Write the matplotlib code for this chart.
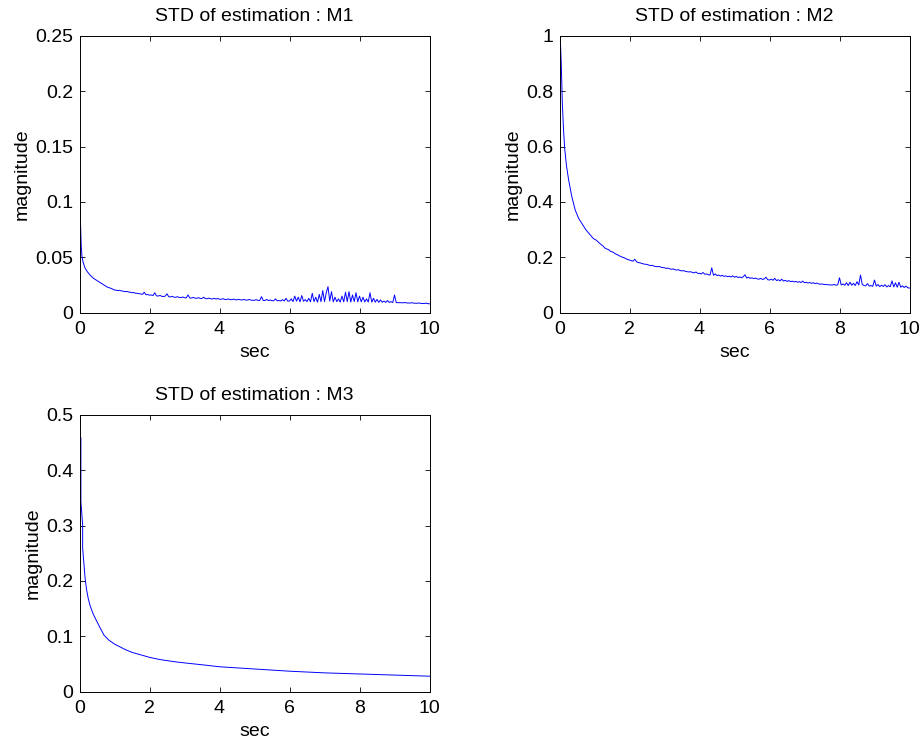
import numpy as np
import matplotlib
matplotlib.use("Agg")
import matplotlib.pyplot as plt
from matplotlib.ticker import FormatStrFormatter

# ---- M1: steep start, then a value every 0.05 s from 1.0 to 10.0 ----
m1_head_t = [0, 0.02, 0.03, 0.05, 0.07, 0.1, 0.15, 0.2, 0.3, 0.4, 0.5, 0.6, 0.7, 0.8, 0.9]
m1_head = [0.110, 0.100, 0.080, 0.060, 0.051, 0.046, 0.041, 0.038, 0.034, 0.031,
           0.029, 0.027, 0.025, 0.023, 0.022]
m1_tail = [
    0.0205, 0.0203, 0.0200, 0.0202, 0.0196, 0.0194, 0.0190, 0.0192, 0.0187, 0.0185,
    0.0180, 0.0182, 0.0176, 0.0175, 0.0172, 0.0170, 0.0166, 0.0185, 0.0162, 0.0164,
    0.0158, 0.0160, 0.0155, 0.0180, 0.0152, 0.0150, 0.0156, 0.0148, 0.0146, 0.0150,
    0.0170, 0.0144, 0.0142, 0.0148, 0.0140, 0.0139, 0.0145, 0.0137, 0.0136, 0.0142,
    0.0135, 0.0134, 0.0160, 0.0133, 0.0132, 0.0138, 0.0131, 0.0130, 0.0136, 0.0129,
    0.0128, 0.0140, 0.0127, 0.0126, 0.0132, 0.0125, 0.0124, 0.0130, 0.0123, 0.0128,
    0.0122, 0.0121, 0.0127, 0.0120, 0.0119, 0.0125, 0.0118, 0.0118, 0.0123, 0.0117,
    0.0116, 0.0121, 0.0116, 0.0115, 0.0120, 0.0114, 0.0114, 0.0119, 0.0113, 0.0112,
    0.0112, 0.0118, 0.0111, 0.0111, 0.0145, 0.0110, 0.0110, 0.0120, 0.0109, 0.0115,
    0.0108, 0.0108, 0.0125, 0.0107, 0.0110, 0.0106, 0.0118, 0.0106, 0.0130, 0.0105,
    0.0105, 0.0125, 0.0100, 0.0150, 0.0104, 0.0140, 0.0098, 0.0155, 0.0103, 0.0118,
    0.0100, 0.0130, 0.0098, 0.0175, 0.0100, 0.0140, 0.0095, 0.0165, 0.0100, 0.0200,
    0.0100, 0.0180, 0.0235, 0.0105, 0.0190, 0.0098, 0.0140, 0.0100, 0.0125, 0.0096,
    0.0150, 0.0098, 0.0185, 0.0100, 0.0190, 0.0096, 0.0160, 0.0100, 0.0180, 0.0098,
    0.0150, 0.0098, 0.0140, 0.0097, 0.0125, 0.0096, 0.0180, 0.0095, 0.0130, 0.0095,
    0.0120, 0.0094, 0.0115, 0.0094, 0.0105, 0.0093, 0.0110, 0.0092, 0.0100, 0.0092,
    0.0160, 0.0091, 0.0091, 0.0090, 0.0090, 0.0089, 0.0092, 0.0088, 0.0088, 0.0087,
    0.0090, 0.0086, 0.0086, 0.0085, 0.0088, 0.0084, 0.0084, 0.0083, 0.0086, 0.0082,
    0.0080,
]

# ---- M2 ----
m2_head_t = [0.02, 0.05, 0.08, 0.115, 0.15, 0.2, 0.26, 0.35, 0.45, 0.55, 0.65, 0.75, 0.85, 0.95]
m2_head = [1.0, 0.90, 0.76, 0.66, 0.59, 0.53, 0.48, 0.42, 0.37, 0.34, 0.32, 0.30, 0.285, 0.27]
m2_tail = [
    0.265, 0.262, 0.256, 0.250, 0.245, 0.240, 0.233, 0.230, 0.228, 0.222,
    0.220, 0.217, 0.212, 0.210, 0.206, 0.203, 0.200, 0.198, 0.195, 0.192,
    0.190, 0.188, 0.186, 0.193, 0.184, 0.181, 0.180, 0.178, 0.176, 0.175,
    0.174, 0.172, 0.170, 0.171, 0.168, 0.167, 0.166, 0.167, 0.164, 0.163,
    0.162, 0.160, 0.161, 0.158, 0.157, 0.158, 0.155, 0.154, 0.155, 0.152,
    0.151, 0.152, 0.149, 0.148, 0.147, 0.148, 0.145, 0.144, 0.147, 0.142,
    0.142, 0.140, 0.145, 0.139, 0.140, 0.137, 0.136, 0.162, 0.135, 0.140,
    0.134, 0.136, 0.132, 0.135, 0.131, 0.133, 0.130, 0.132, 0.129, 0.133,
    0.128, 0.131, 0.127, 0.129, 0.126, 0.130, 0.137, 0.125, 0.128, 0.124,
    0.126, 0.123, 0.125, 0.122, 0.121, 0.124, 0.120, 0.122, 0.128, 0.119,
    0.118, 0.121, 0.117, 0.124, 0.116, 0.119, 0.115, 0.121, 0.114, 0.117,
    0.113, 0.116, 0.112, 0.114, 0.111, 0.113, 0.110, 0.112, 0.109, 0.114,
    0.108, 0.110, 0.107, 0.109, 0.106, 0.108, 0.105, 0.107, 0.104, 0.103,
    0.104, 0.102, 0.102, 0.101, 0.101, 0.100, 0.100, 0.102, 0.099, 0.101,
    0.126, 0.100, 0.104, 0.099, 0.108, 0.098, 0.110, 0.099, 0.106, 0.098,
    0.112, 0.100, 0.136, 0.102, 0.098, 0.097, 0.105, 0.096, 0.098, 0.095,
    0.118, 0.096, 0.102, 0.094, 0.099, 0.095, 0.101, 0.093, 0.098, 0.094,
    0.115, 0.093, 0.108, 0.092, 0.110, 0.092, 0.097, 0.091, 0.096, 0.090,
    0.089,
]

# ---- M3 (smooth) ----
m3_t = [0.04, 0.04, 0.09, 0.09, 0.16, 0.2, 0.25, 0.3, 0.35, 0.4, 0.55, 0.7, 0.84, 1.0,
        1.31, 1.5, 1.78, 2.0, 2.3, 2.73, 3.0, 3.59, 4.0, 4.5, 5.0, 5.5, 6.0, 7.0, 8.0,
        9.0, 10.0]
m3 = [0.458, 0.343, 0.301, 0.259, 0.205, 0.185, 0.168, 0.156, 0.147, 0.139, 0.120,
      0.102, 0.093, 0.086, 0.076, 0.071, 0.066, 0.062, 0.058, 0.054, 0.052, 0.048,
      0.045, 0.043, 0.041, 0.039, 0.037, 0.034, 0.032, 0.030, 0.028]

tail_t = np.arange(len(m1_tail)) * 0.05 + 1.0
m1_t = np.concatenate([m1_head_t, tail_t])
m1_v = np.concatenate([m1_head, m1_tail])
m2_t = np.concatenate([m2_head_t, tail_t])
m2_v = np.concatenate([m2_head, m2_tail])

plt.rcParams['font.family'] = ['Liberation Sans', 'DejaVu Sans']
fs = 14

fig = plt.figure(figsize=(9.23, 7.44), dpi=100)
W, H = 923.0, 744.0
ax1 = fig.add_axes([79.5 / W, 1 - 312.7 / H, 350 / W, 277 / H])
ax2 = fig.add_axes([559.5 / W, 1 - 312.7 / H, 350 / W, 277 / H])
ax3 = fig.add_axes([79.5 / W, 1 - 691.7 / H, 350 / W, 277 / H])

panels = [
    (ax1, m1_t, m1_v, 0.25, 0.05, 'STD of estimation : M1'),
    (ax2, m2_t, m2_v, 1.0, 0.2, 'STD of estimation : M2'),
    (ax3, m3_t, m3, 0.5, 0.1, 'STD of estimation : M3'),
]

for ax, t, v, ytop, ystep, title in panels:
    ax.plot(t, v, color='#0000ff', lw=0.7)
    ax.set_xlim(0, 10)
    ax.set_ylim(0, ytop)
    ax.set_xticks(np.arange(0, 11, 2))
    ax.set_yticks(np.arange(0, ytop + ystep / 2, ystep))
    ax.yaxis.set_major_formatter(FormatStrFormatter('%g'))
    ax.tick_params(direction='in', length=3.5, width=0.6, top=True, right=True,
                   labelsize=fs)
    ax.tick_params(axis='x', pad=6)
    ax.tick_params(axis='y', pad=4.5)
    for s in ax.spines.values():
        s.set_linewidth(0.7)
    ax.set_title(title, fontsize=fs, pad=10.5)
    ax.set_xlabel('sec', fontsize=fs, labelpad=4.5)
    ax.set_ylabel('magnitude', fontsize=fs, labelpad=3)

fig.savefig('out.png', dpi=100)
